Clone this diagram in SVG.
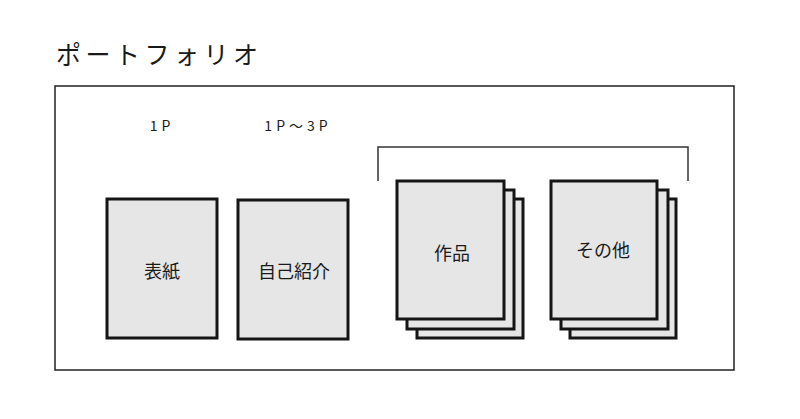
<svg xmlns="http://www.w3.org/2000/svg" width="800" height="419" viewBox="0 0 800 419">
<style>
.t{font-family:"Noto Sans CJK JP","Noto Sans",sans-serif;fill:#1a1a1a}
.sheet{fill:#e6e6e6;stroke:#151515;stroke-width:3}
.lbl{font-size:18px;text-anchor:middle;dominant-baseline:central}
.pg{font-size:14px;text-anchor:middle;letter-spacing:4px}
</style>
<rect width="800" height="419" fill="#fff"/>
<text id="title" class="t" x="56" y="64" font-size="25" letter-spacing="4.5">ポートフォリオ</text>
<rect id="frame" x="55" y="86" width="679" height="284" fill="none" stroke="#222" stroke-width="1.5"/>
<g id="connectors">
<path d="M378 181V147H688V181" fill="none" stroke="#333" stroke-width="1.5"/>
</g>
<g id="pg1"><text class="t pg" x="162" y="131">1P</text></g>
<g id="pg2"><text class="t pg" x="298" y="131">1P～3P</text></g>
<g id="cover">
<rect class="sheet" x="107" y="199" width="110" height="139"/>
<text class="t lbl" x="162" y="270">表紙</text>
</g>
<g id="intro">
<rect class="sheet" x="238" y="200" width="110" height="139"/>
<text class="t lbl" x="294" y="270">自己紹介</text>
</g>
<g id="works">
<rect class="sheet" x="417" y="199" width="106" height="139"/>
<rect class="sheet" x="407" y="190" width="107" height="139"/>
<rect class="sheet" x="397" y="181" width="107" height="138"/>
<text class="t lbl" x="452" y="252">作品</text>
</g>
<g id="others">
<rect class="sheet" x="570" y="199" width="106" height="139"/>
<rect class="sheet" x="561" y="190" width="107" height="139"/>
<rect class="sheet" x="551" y="181" width="106" height="138"/>
<text class="t lbl" x="603" y="249">その他</text>
</g>
</svg>
